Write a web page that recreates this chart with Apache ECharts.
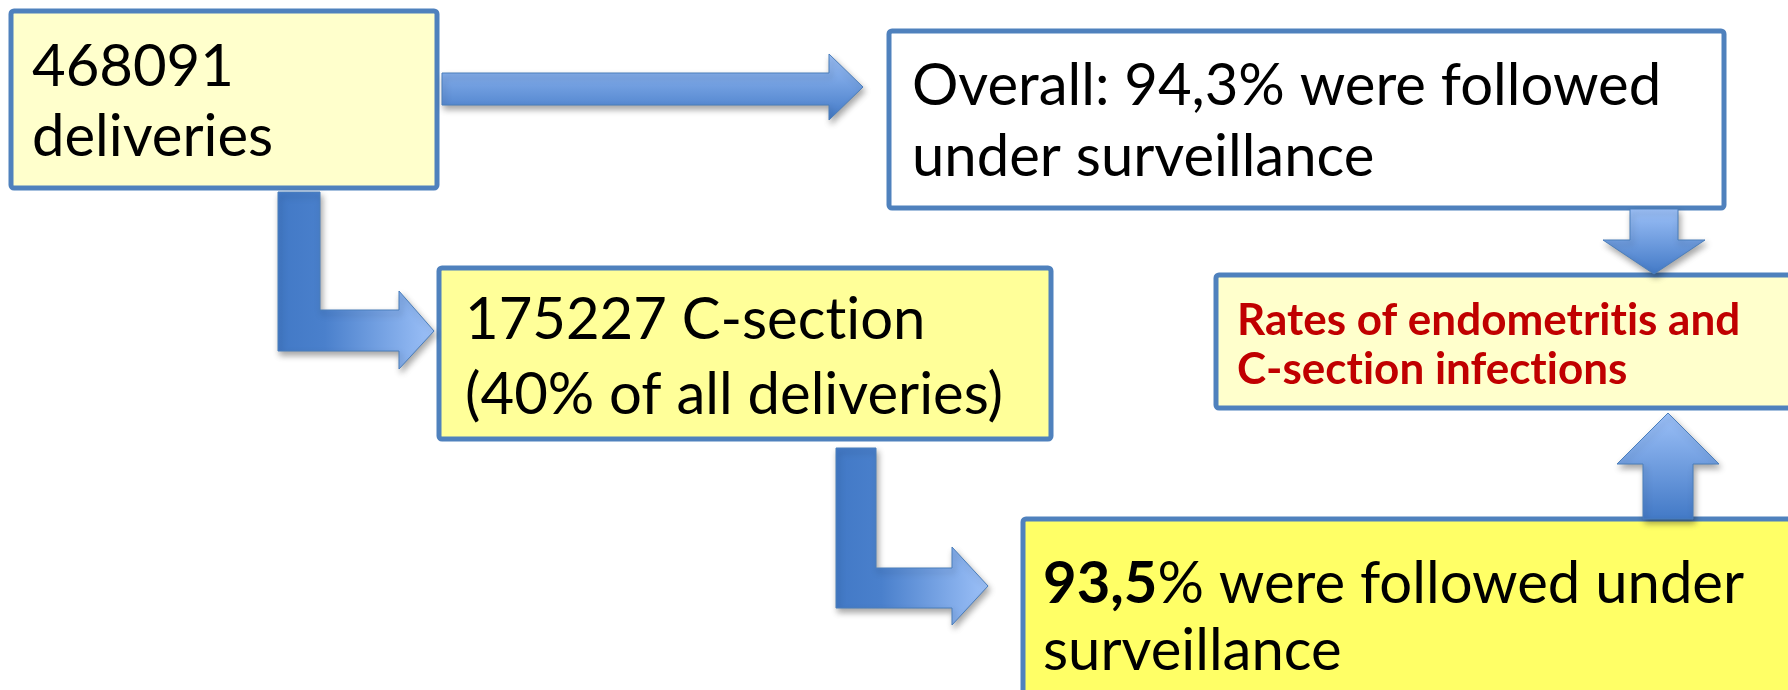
<!DOCTYPE html>
<html><head><meta charset="utf-8">
<script src="https://cdn.jsdelivr.net/npm/echarts@6/dist/echarts.min.js"></script>
<style>html,body{margin:0;padding:0;background:#fff;overflow:hidden}#c{width:1788px;height:690px}</style>
</head><body><div id="c"></div>
<script>
// ---- content ----
const boxIds = ['deliveries', 'overall', 'csection', 'rates', 'followed'];
const boxText = [
  ['468091', 'deliveries'],
  ['Overall: 94,3% were followed', 'under surveillance'],
  ['175227 C-section', '(40% of all deliveries)'],
  ['Rates of endometritis and', 'C-section infections'],
  ['{b|93,5}% were followed under', 'surveillance']
];
const arrowLinks = [
  ['deliveries', 'overall'],
  ['deliveries', 'csection'],
  ['overall', 'rates'],
  ['csection', 'followed'],
  ['followed', 'rates']
];

// ---- layout (pixel space of a hidden 0..1788 x 0..690 grid) ----
const boxLayout = {
  deliveries: {x: 11, y: 11, w: 426, h: 177, fill: '#FFFFCC', tx: 32, ty: [67, 137], size: 58, color: '#000', weight: 'normal'},
  overall:    {x: 889, y: 31, w: 835, h: 177, fill: '#FFFFFF', tx: 912, ty: [86, 157], size: 58, color: '#000', weight: 'normal'},
  csection:   {x: 439, y: 268, w: 612, h: 171, fill: '#FFFF99', tx: 465, ty: [320, 395], size: 58, color: '#000', weight: 'normal'},
  rates:      {x: 1216, y: 275, w: 600, h: 133, fill: '#FFFFCC', tx: 1237, ty: [321, 370], size: 44, color: '#C00000', weight: 'bold'},
  followed:   {x: 1023, y: 519, w: 800, h: 220, fill: '#FFFF66', tx: 1043, ty: [584, 651], size: 58, color: '#000', weight: 'normal'}
};
const arrowLayout = [
  {dir: 'v', pts: [[442,73],[829,73],[829,54],[863,87],[829,120],[829,105],[442,105]]},
  {dir: 'h', pts: [[278,192],[320,192],[320,310],[399,310],[399,291],[434,331],[399,369],[399,351],[278,351]]},
  {dir: 'v', pts: [[1630,209],[1678,209],[1678,240],[1705,240],[1654,274],[1603,240],[1630,240]]},
  {dir: 'h', pts: [[836,448],[876,448],[876,568],[952,568],[952,547],[988,586],[952,625],[952,608],[836,608]]},
  {dir: 'v', pts: [[1643,519],[1643,464],[1617,464],[1668,413],[1719,464],[1693,464],[1693,519]]}
];

const FONT = 'Lato, "Open Sans", sans-serif';
const DARK = '#4279C6';
const LIGHT = '#9DC1F8';

// break the Lato "ti" ligature so the words render letter by letter
function noLig(s) { return s.replace(/ti/g, 't\u200Ci'); }

function renderBox(params, api) {
  const id = boxIds[params.dataIndex];
  const L = boxLayout[id];
  const p0 = api.coord([L.x, L.y]);
  const p1 = api.coord([L.x + L.w, L.y + L.h]);
  const children = [{
    type: 'rect',
    shape: {x: p0[0], y: p0[1], width: p1[0] - p0[0], height: p1[1] - p0[1], r: 3},
    style: {fill: L.fill, stroke: '#4F81BD', lineWidth: 5}
  }];
  boxText[params.dataIndex].forEach(function (line, k) {
    const tp = api.coord([L.tx, L.ty[k]]);
    children.push({
      type: 'text', x: tp[0], y: tp[1],
      style: {
        text: noLig(line), fill: L.color, fontSize: L.size, fontFamily: FONT, fontWeight: L.weight,
        align: 'left', verticalAlign: 'middle',
        rich: {b: {fontSize: L.size, fontFamily: FONT, fontWeight: 'bold', fill: L.color}}
      }
    });
  });
  return {type: 'group', children: children};
}

function renderArrow(params, api) {
  const A = arrowLayout[params.dataIndex];
  const pts = A.pts.map(function (p) { return api.coord(p); });
  const grad = A.dir === 'h'
    ? new echarts.graphic.LinearGradient(0, 0, 1, 0, [{offset: 0, color: DARK}, {offset: 0.3, color: '#4A80CC'}, {offset: 1, color: LIGHT}])
    : new echarts.graphic.LinearGradient(0, 0, 0, 1, [{offset: 0, color: LIGHT}, {offset: 1, color: DARK}]);
  return {
    type: 'polygon',
    shape: {points: pts},
    style: {fill: grad, stroke: '#4A7EBB', lineWidth: 1,
      shadowBlur: 6, shadowOffsetX: 2, shadowOffsetY: 4, shadowColor: 'rgba(0,0,0,0.35)'}
  };
}

const chart = echarts.init(document.getElementById('c'), null, {renderer: 'canvas'});
chart.setOption({
  animation: false,
  backgroundColor: '#ffffff',
  grid: {left: 0, right: 0, top: 0, bottom: 0},
  xAxis: {type: 'value', min: 0, max: 1788, show: false},
  yAxis: {type: 'value', min: 0, max: 690, inverse: true, show: false},
  series: [
    {type: 'custom', name: 'boxes', clip: false, renderItem: renderBox,
      data: boxIds.map(function (id, i) { return [i, 0]; }), z: 1},
    {type: 'custom', name: 'arrows', clip: false, renderItem: renderArrow,
      data: arrowLinks.map(function (l, i) { return [i, 0]; }), z: 2}
  ]
});
</script>
</body></html>
